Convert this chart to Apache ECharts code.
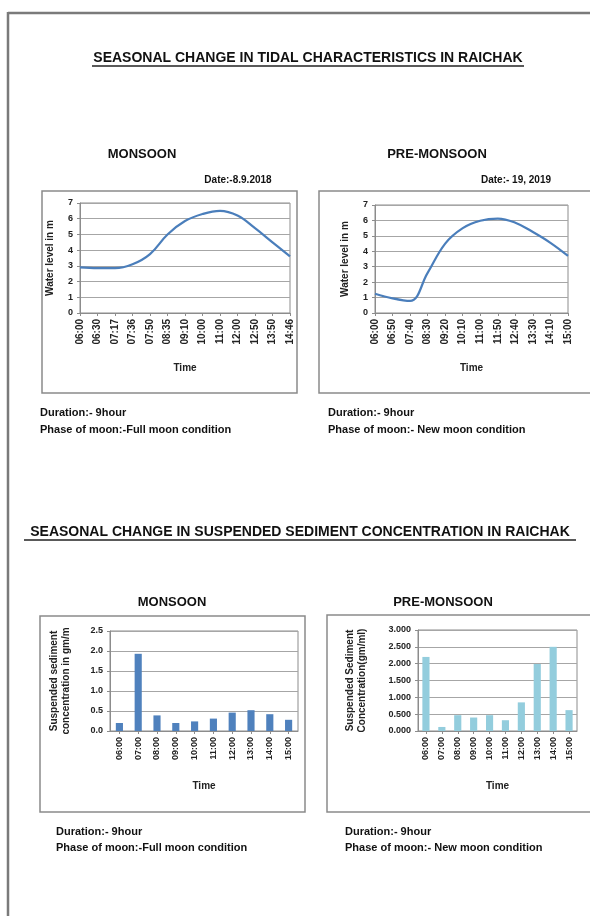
<!DOCTYPE html>
<html><head><meta charset="utf-8">
<script src="https://cdn.jsdelivr.net/npm/echarts@6/dist/echarts.min.js"></script>
<style>html,body{margin:0;padding:0;background:#fff}#c{width:590px;height:916px}</style>
</head><body><div id="c"></div>
<script>
// ---- data ----
const tideMonsoonTimes = ['06:00','06:30','07:17','07:36','07:50','08:35','09:10','10:00','11:00','12:00','12:50','13:50','14:46'];
const tideMonsoonLevels = [2.9, 2.85, 2.85, 3.1, 3.75, 5.0, 5.85, 6.3, 6.5, 6.2, 5.4, 4.5, 3.6];
const tidePreTimes = ['06:00','06:50','07:40','08:30','09:20','10:10','11:00','11:50','12:40','13:30','14:10','15:00'];
const tidePreLevels = [1.25, 0.95, 0.78, 2.6, 4.5, 5.5, 5.98, 6.12, 5.85, 5.25, 4.55, 3.7];
const sscTimes = ['06:00','07:00','08:00','09:00','10:00','11:00','12:00','13:00','14:00','15:00'];
const sscMonsoon = [0.2, 1.93, 0.39, 0.2, 0.24, 0.31, 0.46, 0.52, 0.42, 0.28];
const sscPre = [2.2, 0.12, 0.47, 0.4, 0.47, 0.32, 0.85, 1.99, 2.5, 0.62];
const tideTickMax = 7, tideTickStep = 1;
const sscMonTickMax = 2.5, sscMonTickStep = 0.5;
const sscPreTickMax = 3.0, sscPreTickStep = 0.5;

// ---- styling ----
const F = 'Liberation Sans, Arial, sans-serif';
const GRID_C = '#a6a6a6', BORDER_C = '#8c8c8c', BOX_C = '#8a8a8a';
const chart = echarts.init(document.getElementById('c'), null, {renderer: 'canvas'});

function xCat(idx, data, gap, labelSize) {
  return {
    gridIndex: idx, type: 'category', data: data, boundaryGap: gap,
    axisLine: {lineStyle: {color: BORDER_C}},
    axisTick: {show: true, alignWithLabel: true, length: 3, lineStyle: {color: BORDER_C}},
    axisLabel: {rotate: 90, interval: 0, fontFamily: F, fontWeight: 'bold', fontSize: labelSize, color: '#222', margin: 6},
    name: 'Time', nameLocation: 'middle', nameGap: 50,
    nameTextStyle: {fontFamily: F, fontWeight: 'bold', fontSize: 10, color: '#222'}
  };
}
function yVal(idx, max, step, digits, name, gap) {
  return {
    gridIndex: idx, type: 'value', min: 0, max: max, interval: step,
    axisLine: {show: true, lineStyle: {color: BORDER_C}},
    axisTick: {show: true, length: 3, lineStyle: {color: BORDER_C}},
    splitLine: {lineStyle: {color: GRID_C}},
    axisLabel: {fontFamily: F, fontWeight: 'bold', fontSize: 9, color: '#222', margin: 7,
      formatter: v => v.toFixed(digits)},
    name: name, nameLocation: 'middle', nameGap: gap,
    nameTextStyle: {fontFamily: F, fontWeight: 'bold', fontSize: 10, color: '#222', lineHeight: 12}
  };
}
function txt(x, y, s, size, align) {
  return {type: 'text', left: undefined, x: x, y: y,
    style: {text: s, fontFamily: F, fontWeight: 'bold', fontSize: size, fill: '#111',
      textAlign: align || 'left', textVerticalAlign: 'middle'}};
}
function rect(x, y, w, h) {
  return {type: 'rect', shape: {x: x, y: y, width: w, height: h},
    style: {fill: 'none', stroke: BOX_C, lineWidth: 1.5}, z: -1};
}
function line(x1, y1, x2, y2, w, c) {
  return {type: 'line', shape: {x1: x1, y1: y1, x2: x2, y2: y2}, style: {stroke: c, lineWidth: w}};
}

const option = {
  backgroundColor: '#fff',
  animation: false,
  grid: [
    {left: 80, top: 203, width: 210, height: 110, show: true, borderColor: BORDER_C, borderWidth: 1},
    {left: 375, top: 205, width: 193, height: 108, show: true, borderColor: BORDER_C, borderWidth: 1},
    {left: 110, top: 631, width: 188, height: 100, show: true, borderColor: BORDER_C, borderWidth: 1},
    {left: 418, top: 630, width: 159, height: 101, show: true, borderColor: BORDER_C, borderWidth: 1}
  ],
  xAxis: [
    xCat(0, tideMonsoonTimes, false, 10),
    xCat(1, tidePreTimes, false, 10),
    xCat(2, sscTimes, true, 9),
    xCat(3, sscTimes, true, 9)
  ],
  yAxis: [
    yVal(0, tideTickMax, tideTickStep, 0, 'Water level in m', 24),
    yVal(1, tideTickMax, tideTickStep, 0, 'Water level in m', 24),
    yVal(2, sscMonTickMax, sscMonTickStep, 1, 'Suspended sediment\nconcentration in gm/m', 38),
    yVal(3, sscPreTickMax, sscPreTickStep, 3, 'Suspended Sediment\nConcentration(gm/ml)', 50)
  ],
  series: [
    {type: 'line', xAxisIndex: 0, yAxisIndex: 0, data: tideMonsoonLevels, smooth: 0.4, showSymbol: false,
      lineStyle: {color: '#4a7ebb', width: 2.2}},
    {type: 'line', xAxisIndex: 1, yAxisIndex: 1, data: tidePreLevels, smooth: 0.4, showSymbol: false,
      lineStyle: {color: '#4a7ebb', width: 2.2}},
    {type: 'bar', xAxisIndex: 2, yAxisIndex: 2, data: sscMonsoon, barWidth: '38%',
      itemStyle: {color: '#4f81bd'}},
    {type: 'bar', xAxisIndex: 3, yAxisIndex: 3, data: sscPre, barWidth: '45%',
      itemStyle: {color: '#93cddd'}}
  ],
  graphic: [
    line(8, 13, 590, 13, 2.5, '#7a7a7a'),
    line(8, 12, 8, 916, 2.5, '#7a7a7a'),
    rect(42, 191, 255, 202),
    rect(319, 191, 290, 202),
    rect(40, 616, 265, 196),
    rect(327, 615, 290, 197),
    txt(308, 58, 'SEASONAL CHANGE IN TIDAL CHARACTERISTICS IN RAICHAK', 14, 'center'),
    line(92, 66, 524, 66, 1.5, '#222'),
    txt(300, 532, 'SEASONAL CHANGE IN SUSPENDED SEDIMENT CONCENTRATION IN RAICHAK', 14, 'center'),
    line(24, 540, 576, 540, 1.5, '#222'),
    txt(142, 154, 'MONSOON', 13, 'center'),
    txt(437, 154, 'PRE-MONSOON', 13, 'center'),
    txt(238, 180, 'Date:-8.9.2018', 10, 'center'),
    txt(516, 180, 'Date:- 19, 2019', 10, 'center'),
    txt(40, 413, 'Duration:- 9hour', 11),
    txt(40, 430, 'Phase of moon:-Full moon condition', 11),
    txt(328, 413, 'Duration:- 9hour', 11),
    txt(328, 430, 'Phase of moon:- New moon condition', 11),
    txt(172, 602, 'MONSOON', 13, 'center'),
    txt(443, 602, 'PRE-MONSOON', 13, 'center'),
    txt(56, 832, 'Duration:- 9hour', 11),
    txt(56, 848, 'Phase of moon:-Full moon condition', 11),
    txt(345, 832, 'Duration:- 9hour', 11),
    txt(345, 848, 'Phase of moon:- New moon condition', 11)
  ]
};
chart.setOption(option);
</script></body></html>
